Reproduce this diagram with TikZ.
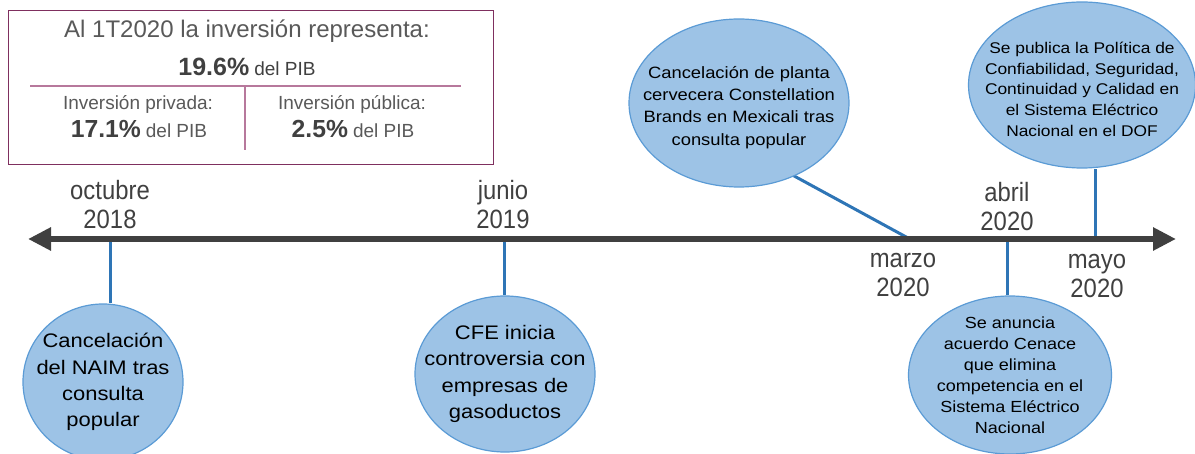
\documentclass[tikz,border=0pt]{standalone}
\usepackage{fontspec}
\setmainfont{Liberation Sans}
\newfontfamily\evtfont[FakeStretch=1.12]{Liberation Sans}
\newfontfamily\datefont[FakeStretch=0.9]{Liberation Sans}
\usetikzlibrary{arrows.meta,shapes.geometric,calc,backgrounds}
\definecolor{plum}{HTML}{7F2F5F}
\definecolor{plumlight}{HTML}{B7789C}
\definecolor{txtgray}{HTML}{595959}
\definecolor{dkgray}{HTML}{404040}
\definecolor{cfill}{HTML}{9DC3E6}
\definecolor{cedge}{HTML}{5B9BD5}
\definecolor{conncol}{HTML}{2E75B6}
\begin{document}
\begin{tikzpicture}[x=1pt,y=-1pt,
  evt/.style={ellipse,fill=cfill,draw=cedge,line width=1.2pt,inner xsep=-60pt,inner ysep=-50pt,align=center,text=black},
  bigtxt/.style={font=\evtfont\fontsize{19.6}{26.3}\selectfont},
  smalltxt/.style={font=\evtfont\fontsize{16.4}{22.3}\selectfont},
  datelbl/.style={align=center,text=dkgray,font=\datefont\fontsize{26.5}{29}\selectfont,inner sep=0pt},
  conn/.style={draw=conncol,line width=3pt},
  boxtxt/.style={anchor=base,inner sep=0pt,text=txtgray},
  axisline/.style={line width=6pt,draw=dkgray,arrows={Triangle[length=23pt,width=22pt]-Triangle[length=23pt,width=22pt]}}
  ]
\useasboundingbox (0,0) rectangle (1195,454);
% summary box
\node[draw=plum,line width=1.4pt,minimum width=485pt,minimum height=154pt,anchor=north west,inner sep=0pt] (box) at (8,10) {};
\node[boxtxt,font=\fontsize{24}{28}\selectfont] (title) at (247,38) {Al 1T2020 la inversión representa:};
\node[boxtxt] (total) at (247,76) {{\fontsize{25}{30}\selectfont\bfseries\color{dkgray}19.6\%}\hspace{5pt}{\fontsize{19}{22}\selectfont\color{dkgray}del PIB}};
\coordinate (hl) at (30,86);
\coordinate (hr) at (461,86);
\coordinate (vt) at (245,86);
\coordinate (vb) at (245,150);
\draw[plumlight,line width=1.2pt] (hl) -- (hr);
\draw[plumlight,line width=1.2pt] (vt) -- (vb);
\node[boxtxt,font=\fontsize{19}{23}\selectfont] (privl) at (138,110) {Inversión privada:};
\node[boxtxt] (privv) at (139,138) {{\fontsize{24.7}{29}\selectfont\bfseries\color{dkgray}17.1\%}\hspace{5pt}{\fontsize{19}{23}\selectfont del PIB}};
\node[boxtxt,font=\fontsize{19}{23}\selectfont] (publ) at (352,110) {Inversión pública:};
\node[boxtxt] (pubv) at (353,138) {{\fontsize{24.7}{29}\selectfont\bfseries\color{dkgray}2.5\%}\hspace{5pt}{\fontsize{19}{23}\selectfont del PIB}};
% timeline coordinates
\coordinate (L) at (28,239);
\coordinate (R) at (1176,239);
\coordinate (t1) at (110,239);
\coordinate (t2) at (504,239);
\coordinate (t3) at (908,238);
\coordinate (t4) at (1007,239);
\coordinate (t5) at (1095,239);
\coordinate (c3) at (785,171);
% events
\node[evt,bigtxt,minimum width=160pt,minimum height=156pt] (e1) at (103,382) {Cancelación\\del NAIM tras\\consulta\\popular};
\node[evt,bigtxt,minimum width=180pt,minimum height=156pt] (e2) at (505,374) {CFE inicia\\controversia con\\empresas de\\gasoductos};
\node[evt,smalltxt,minimum width=220pt,minimum height=168pt] (e3) at (739,103) {\rule{0pt}{21pt}Cancelación de planta\\cervecera Constellation\\Brands en Mexicali tras\\consulta popular};
\node[evt,font=\evtfont\fontsize{16.1}{21}\selectfont,minimum width=203pt,minimum height=158pt] (e4) at (1010,375) {Se anuncia\\acuerdo Cenace\\que elimina\\competencia en el\\Sistema Eléctrico\\Nacional};
\node[evt,font=\evtfont\fontsize{15.5}{20.7}\selectfont,minimum width=227pt,minimum height=166pt] (e5) at (1082,85) {\rule{0pt}{20pt}Se publica la Política de\\Confiabilidad, Seguridad,\\Continuidad y Calidad en\\el Sistema Eléctrico\\Nacional en el DOF};
% connectors (behind)
\begin{pgfonlayer}{background}
\draw[conn] (t1) -- (t1 |- e1.north);
\draw[conn] (t2) -- (t2 |- e2.north);
\draw[conn] (t3) -- (c3);
\draw[conn] (t4) -- (t4 |- e4.north);
\draw[conn] (t5) -- (t5 |- e5.south);
\end{pgfonlayer}
% axis
\draw[axisline] (L) -- (R);
% dates
\node[datelbl] (d1) at (110,205) {octubre\\2018};
\node[datelbl] (d2) at (503,205) {junio\\2019};
\node[datelbl] (d3) at (903,275) {marzo\\2020};
\node[datelbl] (d4) at (1007,207) {abril\\2020};
\node[datelbl] (d5) at (1097,276) {mayo\\2020};
\end{tikzpicture}
\end{document}
